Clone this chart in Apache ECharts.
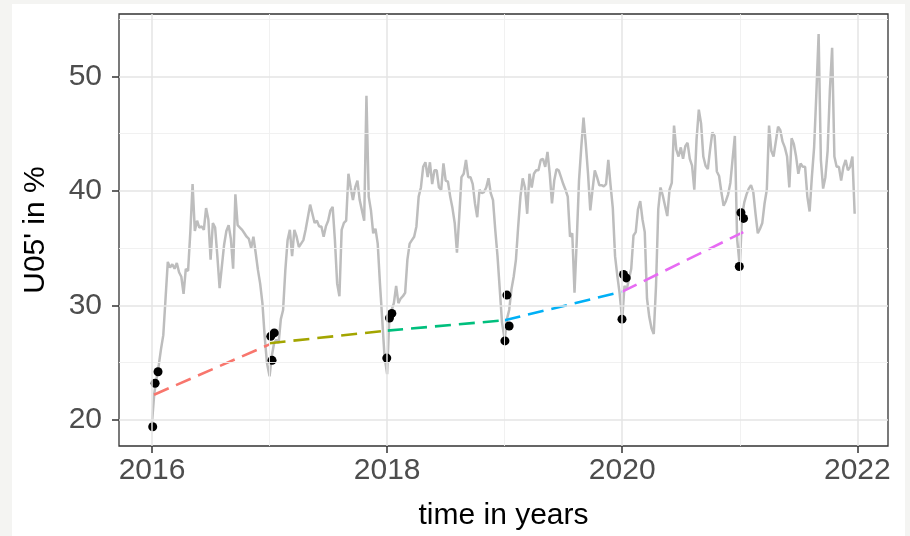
<!DOCTYPE html>
<html>
<head>
<meta charset="utf-8">
<script src="https://cdn.jsdelivr.net/npm/echarts@6/dist/echarts.min.js"></script>
<style>
  html, body { margin: 0; padding: 0; background: #f4f4f2; }
  #card { position: absolute; left: 12px; top: 4px; width: 893px; height: 532px; background: #ffffff; }
  #chart { position: absolute; left: 0; top: 0; width: 910px; height: 536px; }
</style>
</head>
<body>
<div id="card"></div>
<div id="chart"></div>
<script>
// Weekly U05' share (%) per calendar year, 52 weeks each
const u2016 = [19.8, 22.3, 23.6, 24.8, 26.2, 27.4, 30.6, 33.8, 33.3, 33.6, 33.2, 33.7, 32.9, 32.5, 31.0, 33.2, 33.0, 36.4, 40.6, 36.5, 37.4, 36.8, 36.9, 36.6, 38.5, 37.5, 34.0, 37.2, 36.8, 34.3, 31.5, 33.4, 35.3, 36.5, 37.0, 35.8, 33.2, 39.7, 37.0, 36.8, 36.6, 36.3, 36.0, 35.8, 35.0, 36.0, 34.6, 33.1, 31.9, 30.2, 27.3, 25.0];
const u2017 = [23.8, 25.6, 26.7, 27.0, 26.7, 28.8, 29.6, 33.1, 35.7, 36.6, 34.3, 36.6, 36.0, 35.1, 35.4, 35.7, 36.6, 37.7, 38.8, 38.0, 37.2, 37.4, 36.9, 36.9, 36.0, 36.9, 37.4, 38.3, 38.6, 35.7, 31.9, 30.8, 36.6, 37.2, 37.4, 41.5, 40.3, 39.2, 40.3, 40.9, 39.2, 38.3, 37.4, 48.3, 39.5, 38.3, 36.3, 36.7, 35.4, 31.9, 28.8, 25.6];
const u2018 = [24.0, 29.0, 29.6, 30.2, 31.7, 30.2, 30.6, 30.8, 31.1, 34.0, 35.4, 35.7, 36.0, 36.9, 39.5, 40.3, 42.1, 42.5, 41.2, 42.5, 40.6, 41.8, 41.8, 40.3, 40.1, 42.4, 40.9, 40.8, 39.5, 38.5, 37.2, 34.6, 37.7, 41.2, 41.5, 42.7, 41.2, 41.2, 40.6, 38.9, 37.7, 40.1, 39.8, 39.9, 40.3, 41.1, 39.8, 39.2, 36.6, 34.3, 31.4, 28.5];
const u2019 = [27.0, 28.8, 29.6, 31.4, 32.5, 34.0, 36.9, 39.5, 41.1, 40.3, 38.0, 41.5, 40.3, 41.5, 41.8, 41.8, 42.7, 42.8, 42.1, 43.4, 41.5, 38.9, 40.9, 41.9, 41.8, 41.2, 40.6, 40.1, 39.5, 36.0, 36.3, 31.1, 35.7, 40.9, 43.8, 46.4, 44.1, 41.5, 38.3, 40.1, 41.8, 41.2, 40.5, 40.5, 40.4, 40.6, 42.7, 40.5, 38.5, 34.3, 32.6, 31.1];
const u2020 = [28.7, 31.7, 31.4, 32.3, 33.2, 36.1, 36.4, 38.4, 39.1, 37.5, 36.4, 30.6, 29.0, 28.0, 27.5, 31.7, 38.4, 40.3, 39.6, 38.7, 37.8, 40.1, 40.7, 45.7, 43.6, 43.0, 43.8, 42.8, 43.9, 44.2, 42.8, 42.2, 40.1, 44.5, 47.1, 45.9, 43.0, 42.2, 41.9, 43.6, 45.1, 44.8, 41.7, 41.3, 39.9, 38.7, 39.1, 39.7, 40.7, 42.8, 44.8, 35.8];
const u2021 = [33.4, 37.8, 39.0, 39.7, 40.2, 40.5, 39.9, 38.0, 36.3, 36.7, 37.2, 38.9, 40.1, 45.7, 43.5, 43.0, 44.3, 45.6, 45.3, 44.3, 43.8, 43.0, 40.3, 44.6, 44.1, 43.0, 41.5, 42.4, 42.1, 42.1, 39.5, 38.2, 41.2, 43.8, 48.5, 53.7, 42.7, 40.2, 41.2, 43.5, 48.8, 52.5, 43.0, 42.1, 42.1, 40.9, 42.1, 42.7, 41.8, 42.1, 43.0, 38.0];
const weeklyYears = [2016, 2017, 2018, 2019, 2020, 2021];
const weeklyValues = [u2016, u2017, u2018, u2019, u2020, u2021];

// Observations around each turn of the year (time, value)
const obsTime  = [2016.006, 2016.026, 2016.051, 2017.010, 2017.040, 2017.021, 2017.997, 2018.020, 2018.040,
                  2019.002, 2019.019, 2019.038, 2019.998, 2020.011, 2020.034, 2020.996, 2021.010, 2021.032];
const obsValue = [19.4, 23.2, 24.2, 27.3, 27.6, 25.2, 25.4, 28.9, 29.3,
                  26.9, 30.9, 28.2, 28.8, 32.7, 32.4, 33.4, 38.1, 37.6];

// Yearly trend pieces: start/end time and value
const trendStart    = [2016.017, 2017.0, 2018.0, 2019.0, 2020.0];
const trendEnd      = [2017.0, 2018.0, 2019.0, 2020.0, 2021.03];
const trendStartVal = [22.2, 26.7, 27.8, 28.7, 31.2];
const trendEndVal   = [26.6, 27.8, 28.7, 31.2, 36.4];
const trendColors   = ['#F8766D', '#A3A500', '#00BF7D', '#00B0F6', '#E76BF3'];

// Axis ticks
const xMajor = [2016, 2018, 2020, 2022];
const xMinor = [2017, 2019, 2021];
const yMajor = [20, 30, 40, 50];
const yMinor = [25, 35, 45, 55];

const X_MIN = 2015.719, X_MAX = 2022.261;
const Y_MIN = 17.72, Y_MAX = 55.45;
const FONT = "'Liberation Sans', Arial, sans-serif";

const weeklySeriesData = [];
weeklyYears.forEach((yr, i) => {
  weeklyValues[i].forEach((v, w) => weeklySeriesData.push([yr + w / 52.18, v]));
});

const gridMark = (axis, vals, width, color) => vals.map(v => ({
  [axis]: v, lineStyle: { width: width, color: color, type: 'solid' }
}));

const series = [];
series.push({
  type: 'line', data: [], silent: true, z: 1,
  markLine: {
    silent: true, symbol: ['none', 'none'], label: { show: false }, animation: false,
    data: [].concat(
      gridMark('yAxis', yMinor, 0.9, '#efefef'),
      gridMark('xAxis', xMinor, 0.9, '#efefef'),
      gridMark('yAxis', yMajor, 1.5, '#e5e5e5'),
      gridMark('xAxis', xMajor, 1.5, '#e5e5e5')
    )
  }
});
series.push({
  type: 'line', data: weeklySeriesData, showSymbol: false, z: 2,
  lineStyle: { color: '#bdbdbd', width: 2.5 }, itemStyle: { color: '#bdbdbd' }
});
trendStart.forEach((s, i) => {
  series.push({
    type: 'line', z: 3, showSymbol: false,
    data: [[s, trendStartVal[i]], [trendEnd[i], trendEndVal[i]]],
    lineStyle: { color: trendColors[i], width: 2.6, type: [16, 8] }
  });
});
series.push({
  type: 'scatter', z: 4, symbolSize: 9,
  data: obsTime.map((t, i) => [t, obsValue[i]]),
  itemStyle: { color: '#000000', opacity: 1 }
});

const chart = echarts.init(document.getElementById('chart'), null, { renderer: 'canvas' });
chart.setOption({
  animation: false,
  backgroundColor: 'transparent',
  grid: { left: 119, top: 14, width: 769, height: 433, show: true, borderColor: '#333333', borderWidth: 1.3, backgroundColor: '#ffffff' },
  xAxis: {
    type: 'value', min: X_MIN, max: X_MAX,
    axisLine: { show: false }, splitLine: { show: false },
    axisTick: { show: true, customValues: xMajor, length: 7, lineStyle: { color: '#333333', width: 1.5 } },
    axisLabel: { customValues: xMajor, fontSize: 30, color: '#4d4d4d', margin: 10, fontFamily: FONT, formatter: v => String(v) },
    name: 'time in years', nameLocation: 'middle', nameGap: 55,
    nameTextStyle: { fontSize: 30, color: '#000000', fontFamily: FONT }
  },
  yAxis: {
    type: 'value', min: Y_MIN, max: Y_MAX,
    axisLine: { show: false }, splitLine: { show: false },
    axisTick: { show: true, customValues: yMajor, length: 7, lineStyle: { color: '#333333', width: 1.5 } },
    axisLabel: { customValues: yMajor, fontSize: 30, color: '#4d4d4d', margin: 17, fontFamily: FONT, formatter: v => String(v) },
    name: "U05' in %", nameLocation: 'middle', nameGap: 68, nameRotate: 90,
    nameTextStyle: { fontSize: 30, color: '#000000', fontFamily: FONT }
  },
  series: series
});
</script>
</body>
</html>
